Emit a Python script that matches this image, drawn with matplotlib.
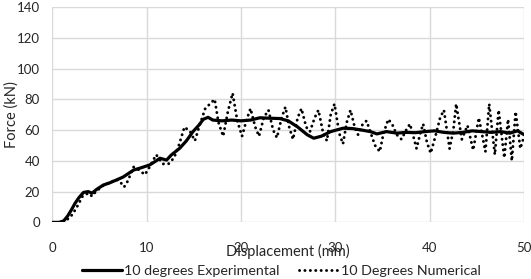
import matplotlib
matplotlib.use("Agg")
import matplotlib.pyplot as plt

plt.rcParams['font.family'] = ['Lato', 'DejaVu Sans']

# Experimental (smooth) curve
exp_x = [0, 0.7, 1.2, 1.6, 2.0, 2.4, 2.8, 3.3, 3.8, 4.2, 4.7, 5.4, 6.0, 6.8, 7.5, 8.6, 9.4,
         10.3, 11.0, 11.4, 12.1, 12.6, 13.5, 14.2, 14.9, 15.5, 16.0, 16.5, 17.0, 18.0,
         19.0, 20.0, 21.0, 22.0, 23.0, 24.1, 25.0, 26.0, 27.0, 27.7, 28.5, 29.5, 30.8,
         31.8, 32.8, 33.7, 34.4, 35.4, 36.5, 37.5, 38.5, 39.5, 40.5, 41.5, 42.5, 43.5,
         44.5, 45.5, 46.5, 47.5, 48.5, 49.3, 50.0]
exp_y = [0, 0, 1, 4, 8, 12.4, 16, 19.5, 20, 19, 21.5, 24.3, 25.5, 27.6, 29.5, 34, 35.5,
         37.3, 40, 41.7, 40.5, 43.8, 48.2, 53, 59, 63, 67, 68.3, 66.5, 66, 66.5, 66, 66.5,
         68, 67.7, 67.5, 66, 62, 57, 54.7, 56, 59, 61.2, 61, 60, 59, 57.5, 59, 58, 58.5,
         58.3, 59, 59.5, 58.5, 58, 58.5, 59.5, 59, 58.5, 59, 58, 59.5, 57]

# Numerical (oscillating) curve
num_x = [0, 1.0, 1.6, 2.1, 2.6, 3.2, 3.8, 4.2, 4.6, 5.2, 5.6, 6.2, 6.7, 7.1, 7.6, 8.0, 8.6,
         9.2, 9.8, 10.3, 11.0, 11.7, 12.3, 12.9, 13.4, 14.0, 14.6, 15.1, 15.6, 16.2, 16.7,
         17.2, 17.6, 18.1, 18.6, 19.1, 19.6, 20.1, 20.6, 21.0, 21.5, 21.9, 22.4, 22.9,
         23.4, 23.8, 24.3, 24.7, 25.1, 25.5, 26.0, 26.4, 26.9, 27.3, 27.8, 28.2, 28.7,
         29.1, 29.5, 29.9, 30.4, 30.8, 31.2, 31.6, 32.0, 32.4, 32.9, 33.3, 33.8, 34.2,
         34.7, 35.1, 35.6, 36.0, 36.5, 37.0, 37.5, 37.9, 38.3, 38.6, 39.0, 39.3, 39.7,
         40.1, 40.6, 41.1, 41.5, 42.1, 42.5, 42.8, 43.4, 44.0, 44.6, 45.2, 45.9, 46.3,
         46.9, 47.3, 47.9, 48.3, 48.7, 49.1, 49.6, 50.0]
num_y = [0, 0, 2, 5, 10, 17, 19, 17, 20, 23, 25, 26, 28, 27, 23, 27, 36,
         34, 31, 36, 44, 38, 38, 42, 50, 62, 59, 53, 63, 74, 77,
         80, 65, 56, 72, 84, 66, 56, 67, 74, 62, 56, 68, 73,
         60, 55, 68, 75, 62, 54, 68, 74, 62, 59, 68, 73, 58,
         53, 70, 77, 58, 51, 65, 73, 63, 57, 64, 66, 57, 50,
         46, 58, 67, 64, 57, 54, 60, 64, 55, 48, 58, 64, 52,
         45, 56, 68, 73, 48, 60, 77, 54, 63, 47, 68, 46, 77,
         44, 73, 42, 67, 40, 72, 48, 56]

x_ticks = [0, 10, 20, 30, 40, 50]
y_ticks = [0, 20, 40, 60, 80, 100, 120, 140]

FS = 9.5
FS_LAB = 10.5
FS_LEG = 10.3
TXT = '#262626'

fig = plt.figure(figsize=(5.31, 2.79), dpi=100)
ax = fig.add_axes([0.0987, 0.2029, 0.8883, 0.7721])

ax.plot(exp_x, exp_y, color='black', lw=2.3, solid_capstyle='round', solid_joinstyle='round',
        label='10 degrees Experimental', zorder=3)
ax.plot(num_x, num_y, color='black', lw=2.1, linestyle=(0, (0.05, 1.8)),
        dash_capstyle='round', label='10 Degrees Numerical', zorder=4)

ax.set_xlim(0, 50)
ax.set_ylim(0, 140)
ax.set_xticks(x_ticks)
ax.set_yticks(y_ticks)
for s in ax.spines.values():
    s.set_visible(False)
ax.grid(True, color='#d9d9d9', lw=1.0)
ax.set_axisbelow(True)
ax.tick_params(axis='both', length=0, labelsize=FS, colors=TXT)
ax.tick_params(axis='x', pad=14)
ax.tick_params(axis='y', pad=9)

ax.set_xlabel('Displacement (mm)', fontsize=FS_LAB, color=TXT)
ax.xaxis.set_label_coords(0.5, -0.1)
ax.set_ylabel('Force (kN)', fontsize=FS_LAB, color=TXT)
ax.yaxis.set_label_coords(-0.072, 0.5)

leg = fig.legend(loc='center', bbox_to_anchor=(0.53, 0.03), ncol=2, frameon=False,
                 fontsize=FS_LEG, handlelength=2.8, handletextpad=0.2, columnspacing=1.3,
                 labelcolor=TXT, borderpad=0, borderaxespad=0)

fig.savefig('out.png', dpi=100)
